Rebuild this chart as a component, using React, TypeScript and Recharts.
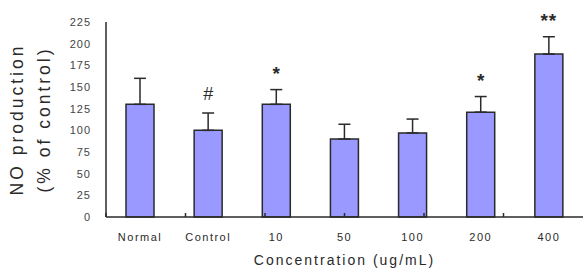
import { BarChart, Bar, XAxis, YAxis, ErrorBar, LabelList } from 'recharts';

const categories = ['Normal', 'Control', '10', '50', '100', '200', '400'];
const means = [130, 100, 130, 90, 97, 121, 188];
const sems = [30, 20, 17, 17, 16, 18, 20];
const marks = ['', '#', '*', '', '', '*', '**'];
const yTicks = [0, 25, 50, 75, 100, 125, 150, 175, 200, 225];
const boundaryTicks = [0, 1, 2, 3, 4, 5, 6, 7];

const data = categories.map((name, i) => ({
  name,
  mean: means[i],
  // upward-only error bars
  err: [0, sems[i]],
  sem: sems[i],
  mark: marks[i],
}));

const FONT = '"Liberation Sans", Arial, sans-serif';
const INK = '#2a2a2a';

const Blank = () => <g />;

function YTitle(props: any) {
  const vb = props.viewBox || {};
  const cy = vb.y + vb.height / 2;
  const lines = [
    { text: 'NO production', x: 17 },
    { text: '(% of control)', x: 44 },
  ];
  return (
    <g>
      {lines.map((l) => (
        <text
          key={l.text}
          x={l.x}
          y={cy}
          transform={`rotate(-90 ${l.x} ${cy})`}
          textAnchor="middle"
          dominantBaseline="central"
          fontFamily={FONT}
          fontSize={17.5}
          letterSpacing={3}
          fill={INK}
        >
          {l.text}
        </text>
      ))}
    </g>
  );
}

// significance marks sit a little above the whisker cap
function SigMark(props: any) {
  const { x, y, width, height, value, index } = props;
  if (!value) return null;
  const pxPerUnit = height / means[index];
  const capY = y - sems[index] * pxPerUnit;
  const isHash = value === '#';
  return (
    <text
      x={x + width / 2}
      y={capY - (isHash ? 13 : 10)}
      textAnchor="middle"
      fontFamily={FONT}
      fontSize={isHash ? 18 : 19}
      fontWeight={isHash ? 'normal' : 'bold'}
      letterSpacing={value === '**' ? 1 : 0}
      fill={INK}
    >
      {value}
    </text>
  );
}

export default function App() {
  return (
    <div style={{ position: 'absolute', left: 0, top: 0, background: '#fff' }}>
      <BarChart
        width={586}
        height={269}
        data={data}
        margin={{ top: 22, right: 3, bottom: 22, left: 66 }}
        barCategoryGap={0}
      >
        <XAxis
          dataKey="name"
          height={30}
          tickLine={false}
          axisLine={{ stroke: INK, strokeWidth: 1.5 }}
          tick={{ fill: INK, fontSize: 11, fontFamily: FONT, letterSpacing: 1.5 }}
          tickMargin={10}
          label={{
            value: 'Concentration (ug/mL)',
            position: 'insideBottom',
            offset: -18,
            fill: INK,
            fontSize: 14,
            fontFamily: FONT,
            letterSpacing: 2,
          }}
        />
        <XAxis
          xAxisId="ticks"
          type="number"
          domain={[0, 7]}
          ticks={boundaryTicks}
          mirror
          axisLine={false}
          tick={Blank}
          tickSize={4}
          tickLine={{ stroke: INK, strokeWidth: 1.5 }}
        />
        <YAxis
          domain={[0, 225]}
          ticks={yTicks}
          width={40}
          tickLine={false}
          axisLine={{ stroke: INK, strokeWidth: 1.5 }}
          tick={{ fill: '#444', fontSize: 11, fontFamily: FONT, letterSpacing: 1 }}
          tickMargin={9}
          interval={0}
          label={{ content: YTitle }}
        />
        <YAxis
          yAxisId="ticks"
          domain={[0, 225]}
          ticks={yTicks}
          mirror
          axisLine={false}
          tick={Blank}
          tickSize={3}
          tickLine={{ stroke: INK, strokeWidth: 1.5 }}
          interval={0}
        />
        <Bar
          dataKey="mean"
          fill="#9999ff"
          stroke={INK}
          strokeWidth={1.5}
          barSize={28}
          isAnimationActive={false}
        >
          <ErrorBar
            dataKey="err"
            direction="y"
            width={6}
            stroke={INK}
            strokeWidth={1.5}
            isAnimationActive={false}
          />
          <LabelList dataKey="mark" content={SigMark} />
        </Bar>
      </BarChart>
    </div>
  );
}
